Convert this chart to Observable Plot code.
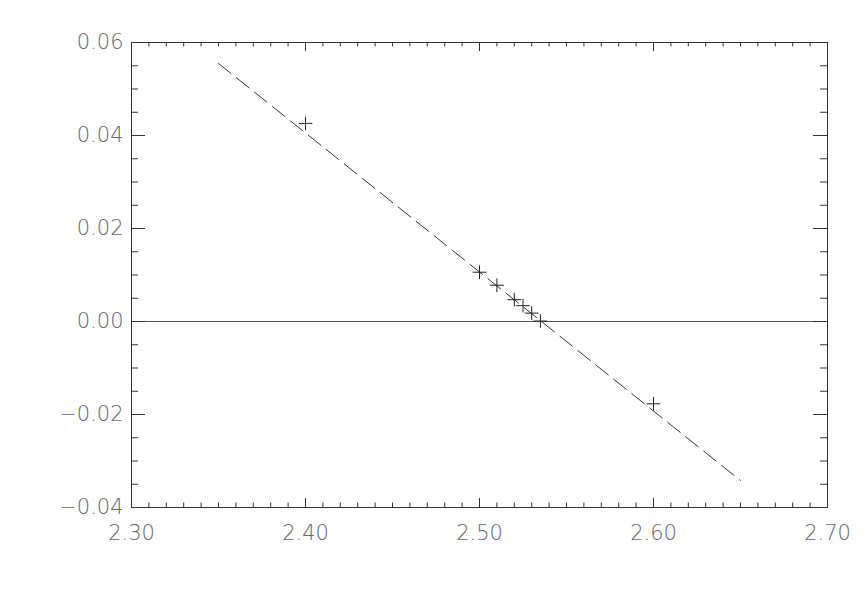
<!DOCTYPE html>
<html><head><meta charset="utf-8">
<script src="https://cdn.jsdelivr.net/npm/d3@7"></script>
<script src="https://cdn.jsdelivr.net/npm/@observablehq/plot@0.6"></script>
<style>body{margin:0;background:#fff}</style>
</head><body><div id="chart"></div>
<script>
const xPoints = [2.40, 2.50, 2.51, 2.52, 2.525, 2.53, 2.535, 2.60];
const yPoints = [0.0426, 0.0106, 0.0078, 0.0047, 0.0034, 0.0018, 0.0001, -0.0177];
const fitX = [2.35, 2.65];
const fitY = [0.0555, -0.0342];
const xMajorTicks = [2.30, 2.40, 2.50, 2.60, 2.70];
const yMajorTicks = [-0.04, -0.02, 0.00, 0.02, 0.04, 0.06];
const xMinorTicks = d3.range(0, 41).map(i => 2.30 + i * 0.01);
const yMinorTicks = d3.range(0, 21).map(i => -0.04 + i * 0.005);

const points = xPoints.map((x, i) => ({x, y: yPoints[i]}));
const fit = fitX.map((x, i) => ({x, y: fitY[i]}));

const W = 866, H = 591, mL = 131, mR = 39, mT = 42, mB = 84;
const fw = W - mL - mR, fh = H - mT - mB;
const axisColor = "#333";
const fmt = d3.format(".2f");

const chart = Plot.plot({
  width: W, height: H,
  marginLeft: mL, marginRight: mR, marginTop: mT, marginBottom: mB,
  style: {fontFamily: "DejaVu Sans", fontSize: "21px", background: "#fff"},
  x: {domain: [2.30, 2.70], label: null},
  y: {domain: [-0.04, 0.06], label: null},
  marks: [
    Plot.ruleY([0], {stroke: "#555", strokeWidth: 1}),
    Plot.line(fit, {x: "x", y: "y", stroke: "#333", strokeWidth: 1, strokeDasharray: "16,7"}),
    Plot.dot(points, {x: "x", y: "y", symbol: "plus", r: 4.5, stroke: "#222", strokeWidth: 1}),
    Plot.tickX(xMinorTicks, {x: d => d, insetTop: fh - 4.5, stroke: axisColor}),
    Plot.tickX(xMinorTicks, {x: d => d, insetBottom: fh - 4.5, stroke: axisColor}),
    Plot.tickX(xMajorTicks, {x: d => d, insetTop: fh - 9, stroke: axisColor}),
    Plot.tickX(xMajorTicks, {x: d => d, insetBottom: fh - 9, stroke: axisColor}),
    Plot.tickY(yMinorTicks, {y: d => d, insetRight: fw - 7, stroke: axisColor}),
    Plot.tickY(yMinorTicks, {y: d => d, insetLeft: fw - 7, stroke: axisColor}),
    Plot.tickY(yMajorTicks, {y: d => d, insetRight: fw - 14, stroke: axisColor}),
    Plot.tickY(yMajorTicks, {y: d => d, insetLeft: fw - 14, stroke: axisColor}),
    Plot.frame({stroke: axisColor}),
    Plot.axisX(xMajorTicks, {tickSize: 0, tickPadding: 18, tickFormat: fmt, fill: "#666", fontWeight: 200, label: null}),
    Plot.axisY(yMajorTicks, {tickSize: 0, tickPadding: 8, tickFormat: fmt, fill: "#666", fontWeight: 200, label: null})
  ]
});
document.getElementById("chart").appendChild(chart);
</script>
</body></html>
